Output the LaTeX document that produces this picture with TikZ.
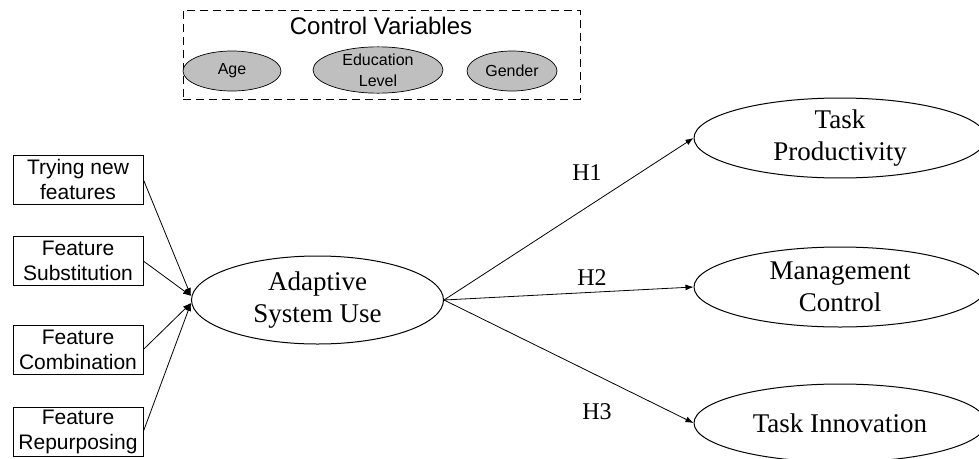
\documentclass[tikz,border=0pt]{standalone}
\usepackage{fontspec}
\setmainfont{Liberation Serif}
\setsansfont{Liberation Sans}
\usetikzlibrary{shapes.geometric,arrows.meta}

\begin{document}
\begin{tikzpicture}[x=1pt, y=-1pt,
        construct/.style={ellipse, draw, line width=1pt, inner sep=0pt, minimum width=292pt, minimum height=78pt, align=center, font=\fontsize{27}{32}\selectfont},
        controlvar/.style={ellipse, draw, line width=0.7pt, fill=black!25, inner sep=0pt, align=center, font=\sffamily\fontsize{16}{21}\selectfont},
        activity/.style={rectangle, draw, line width=0.7pt, minimum width=130pt, minimum height=49pt, inner sep=0pt, align=center, font=\sffamily\fontsize{21}{25}\selectfont},
        link/.style={line width=0.8pt, -{Latex[length=8pt, width=6pt]}},
        hyp/.style={font=\fontsize{24}{28}\selectfont}]
        \useasboundingbox (0,0) rectangle (979,458);
        % control variables
        \node[draw, dashed, dash pattern=on 8pt off 5pt, line width=0.7pt, minimum width=397pt, minimum height=89pt] (ctrlbox) at (381.5,54.5) {};
        \node[font=\sffamily\fontsize{24}{28}\selectfont] (ctrltitle) at (381,25.5) {Control Variables};
        \node[controlvar, minimum width=98pt, minimum height=40pt] (age) at (232,71) {Age};
        \node[controlvar, minimum width=130pt, minimum height=44pt] (edu) at (378,70) {Education\\Level};
        \node[controlvar, minimum width=90pt, minimum height=40pt] (gender) at (512,71) {Gender};
        % adaptive system use
        \node[activity] (trying) at (78,179.5) {Trying new\\features};
        \node[activity] (subst) at (78,261) {Feature\\Substitution};
        \node[activity] (combi) at (78,349.5) {Feature\\Combination};
        \node[activity] (repurp) at (78,431.5) {Feature\\Repurposing};
        \node[construct, minimum width=252pt, minimum height=88pt] (asu) at (317.5,300) {Adaptive\\System Use};
        \draw[link] (trying.east) -- ([yshift=4pt]asu.west);
        \draw[link] (subst.east) -- ([yshift=4pt]asu.west);
        \draw[link] (combi.east) -- ([yshift=-3pt]asu.west);
        \draw[link] (repurp.east) -- ([yshift=-3pt]asu.west);
        % outcomes
        \node[construct] (prod) at (840,138) {Task\\Productivity};
        \node[construct, minimum height=80pt] (mgmt) at (840,287) {Management\\Control};
        \node[construct] (innov) at (840,423) {Task Innovation};
        \draw[link] (asu.east) -- (prod.west);
        \draw[link] (asu.east) -- (mgmt.west);
        \draw[link] (asu.east) -- (innov.west);
        \node[hyp] (h1) at (587,173) {H1};
        \node[hyp] (h2) at (592,278) {H2};
        \node[hyp] (h3) at (597,412) {H3};
    \end{tikzpicture}
\end{document}
